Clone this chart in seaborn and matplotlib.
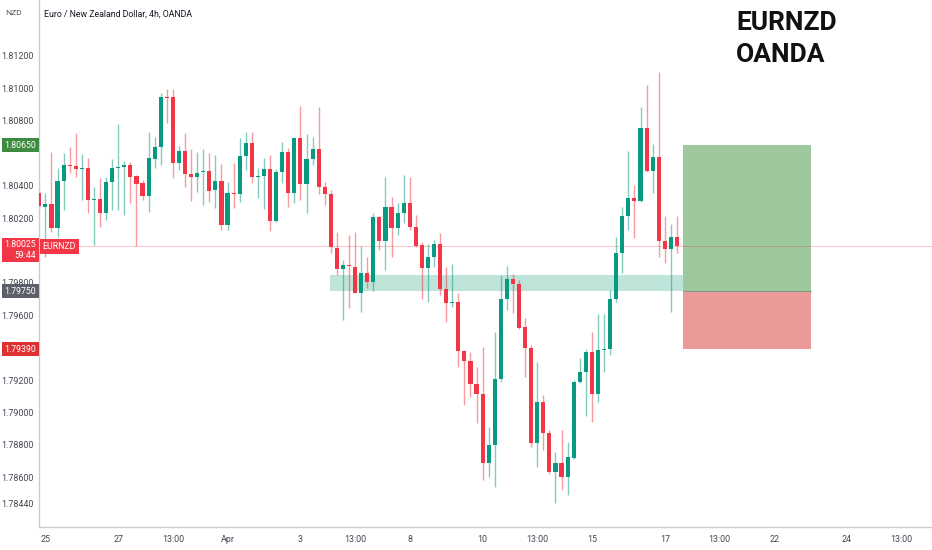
import matplotlib
matplotlib.use('Agg')
import matplotlib.pyplot as plt
import numpy as np
import pandas as pd
import seaborn as sns

# EURNZD 4h candles, bar index -1 (Mar 22 21:00) .. 104 (Apr 17 09:00)
opens = [1.80355, 1.80268, 1.80287, 1.80139, 1.80429, 1.80528, 1.80522, 1.80503, 1.80509, 1.80312,
         1.80318, 1.80232, 1.80423, 1.80509, 1.80515, 1.80528, 1.80460, 1.80417, 1.80336, 1.80565,
         1.80639, 1.80948, 1.80948, 1.80540, 1.80614, 1.80472, 1.80454, 1.80485, 1.80491, 1.80373,
         1.80429, 1.80158, 1.80355, 1.80349, 1.80584, 1.80664, 1.80454, 1.80460, 1.80503, 1.80182,
         1.80485, 1.80608, 1.80355, 1.80695, 1.80411, 1.80565, 1.80627, 1.80392, 1.80349, 1.80016,
         1.79886, 1.79911, 1.79899, 1.79738, 1.79862, 1.79806, 1.80207, 1.80059, 1.80268, 1.80139,
         1.80232, 1.80293, 1.80145, 1.80034, 1.79892, 1.79960, 1.80040, 1.79763, 1.79677, 1.79683,
         1.79380, 1.79319, 1.79177, 1.79115, 1.78689, 1.78800, 1.79208, 1.79701, 1.79825, 1.79794,
         1.79528, 1.79399, 1.78813, 1.79066, 1.78874, 1.78634, 1.78689, 1.78603, 1.78720, 1.79189,
         1.79251, 1.79374, 1.79115, 1.79386, 1.79393, 1.79701, 1.79985, 1.80213, 1.80324, 1.80306,
         1.80756, 1.80491, 1.80577, 1.80059, 1.80010, 1.80084]
highs = [1.80373, 1.80355, 1.80608, 1.80509, 1.80602, 1.80639, 1.80725, 1.80596, 1.80571, 1.80392,
         1.80447, 1.80454, 1.80565, 1.80781, 1.80553, 1.80546, 1.80466, 1.80435, 1.80732, 1.80701,
         1.80972, 1.80997, 1.80997, 1.80645, 1.80725, 1.80627, 1.80608, 1.80627, 1.80602, 1.80590,
         1.80534, 1.80423, 1.80540, 1.80695, 1.80732, 1.80732, 1.80509, 1.80571, 1.80590, 1.80503,
         1.80670, 1.80633, 1.80701, 1.80892, 1.80719, 1.80701, 1.80886, 1.80423, 1.80373, 1.80115,
         1.79942, 1.80096, 1.80115, 1.80028, 1.79960, 1.80232, 1.80213, 1.80454, 1.80330, 1.80293,
         1.80466, 1.80454, 1.80219, 1.80053, 1.80040, 1.80065, 1.80108, 1.79899, 1.79917, 1.79738,
         1.79386, 1.79374, 1.79282, 1.79405, 1.78911, 1.79497, 1.79849, 1.79905, 1.79855, 1.79818,
         1.79584, 1.79417, 1.79313, 1.79109, 1.78893, 1.78757, 1.78893, 1.78819, 1.79201, 1.79337,
         1.79393, 1.79497, 1.79609, 1.79609, 1.79757, 1.80084, 1.80268, 1.80614, 1.80404, 1.80886,
         1.81022, 1.80658, 1.81102, 1.80213, 1.80164, 1.80213]
lows = [1.80250, 1.79960, 1.80115, 1.80084, 1.80250, 1.80478, 1.80454, 1.80312, 1.80232, 1.80034,
        1.80145, 1.80189, 1.80250, 1.80250, 1.80219, 1.80293, 1.80028, 1.80312, 1.80238, 1.80509,
        1.80528, 1.80787, 1.80447, 1.80497, 1.80392, 1.80306, 1.80361, 1.80281, 1.80299, 1.80262,
        1.80127, 1.80127, 1.80262, 1.80299, 1.80497, 1.80417, 1.80324, 1.80256, 1.80121, 1.80176,
        1.80417, 1.80268, 1.80293, 1.80312, 1.80232, 1.80528, 1.80349, 1.80281, 1.79985, 1.79849,
        1.79572, 1.79646, 1.79738, 1.79621, 1.79769, 1.79751, 1.80003, 1.79880, 1.79960, 1.80096,
        1.80170, 1.80127, 1.80022, 1.79701, 1.79683, 1.79899, 1.79726, 1.79559, 1.79652, 1.79282,
        1.79047, 1.79097, 1.78936, 1.78584, 1.78603, 1.78541, 1.79189, 1.79634, 1.79615, 1.79516,
        1.79220, 1.78788, 1.78664, 1.78769, 1.78621, 1.78440, 1.78522, 1.78492, 1.78714, 1.79183,
        1.78979, 1.78942, 1.79066, 1.79251, 1.79356, 1.79683, 1.79862, 1.80127, 1.80077, 1.80299,
        1.80485, 1.80355, 1.79960, 1.79923, 1.79621, 1.79985]
closes = [1.80275, 1.80287, 1.80139, 1.80429, 1.80528, 1.80522, 1.80503, 1.80509, 1.80312, 1.80318,
          1.80232, 1.80423, 1.80509, 1.80515, 1.80528, 1.80454, 1.80411, 1.80336, 1.80571, 1.80639,
          1.80948, 1.80941, 1.80540, 1.80614, 1.80472, 1.80454, 1.80478, 1.80491, 1.80367, 1.80429,
          1.80158, 1.80355, 1.80349, 1.80584, 1.80664, 1.80454, 1.80460, 1.80503, 1.80182, 1.80485,
          1.80608, 1.80355, 1.80695, 1.80411, 1.80565, 1.80627, 1.80392, 1.80349, 1.80022, 1.79886,
          1.79911, 1.79905, 1.79738, 1.79862, 1.79806, 1.80207, 1.80059, 1.80268, 1.80139, 1.80232,
          1.80293, 1.80145, 1.80028, 1.79892, 1.79960, 1.80040, 1.79763, 1.79677, 1.79683, 1.79380,
          1.79319, 1.79177, 1.79115, 1.78689, 1.78800, 1.79208, 1.79701, 1.79825, 1.79794, 1.79522,
          1.79399, 1.78813, 1.79066, 1.78874, 1.78634, 1.78689, 1.78603, 1.78726, 1.79189, 1.79251,
          1.79374, 1.79115, 1.79386, 1.79393, 1.79701, 1.79985, 1.80213, 1.80324, 1.80306, 1.80756,
          1.80491, 1.80577, 1.80059, 1.80010, 1.80084, 1.80025]
bar_index = list(range(-1, len(opens) - 1))

time_ticks = [0, 12, 21, 30, 42, 51, 60, 72, 81, 90, 102, 111, 120, 132, 141]
time_labels = ['25', '27', '13:00', 'Apr', '3', '13:00', '8', '10', '13:00',
               '15', '17', '13:00', '22', '24', '13:00']
# 1.806 / 1.800 / 1.794 sit under the price tags, so they are left out
price_ticks = [1.7844, 1.786, 1.788, 1.790, 1.792, 1.796, 1.798,
               1.802, 1.804, 1.808, 1.810, 1.812]

last_price = 1.80025
zone_low, zone_high = 1.7975, 1.7985
entry, target, stop = 1.7975, 1.8065, 1.7939
zone_start, zone_end = 46.9, 105
box_start, box_end = 105, 126

UP, DOWN = '#089981', '#f23645'

df = pd.DataFrame(dict(idx=bar_index, o=opens, h=highs, l=lows, c=closes))
colors = np.where(df.c >= df.o, UP, DOWN)

sns.set_theme(style='white')
plt.rcParams['font.family'] = ['Roboto', 'DejaVu Sans']

fig = plt.figure(figsize=(9.32, 5.5), dpi=100, facecolor='white')
ax = fig.add_axes([39 / 932, 23 / 550, 893 / 932, 527 / 550])
ax.set_facecolor('white')

# support zone and long position tool
ax.fill_between([zone_start, zone_end], zone_low, zone_high, color='#bfe4da', lw=0, zorder=1)
ax.fill_between([box_start, box_end], entry, target, color='#9dc89d', lw=0, zorder=1)
ax.fill_between([box_start, box_end], stop, entry, color='#eb9a9a', lw=0, zorder=1)
ax.plot([box_start, box_end], [entry, entry], color='#8a9a8a', lw=0.8, zorder=1.2)
ax.axhline(last_price, color=DOWN, lw=0.7, alpha=0.3, zorder=1.1)

# candles
ax.vlines(df.idx, df.l, df.h, colors=colors, lw=1, alpha=0.5, zorder=2)
body_lo = np.minimum(df.o, df.c)
body_h = np.maximum(np.abs(df.c - df.o), 0.00003)
ax.bar(df.idx, body_h, bottom=body_lo, width=0.68, color=colors, lw=0, zorder=3)

ax.set_xlim(-1.05, 146)
ax.set_ylim(1.78294, 1.815455)
ax.set_yticks(price_ticks)
ax.set_yticklabels([f'{p:.5f}' for p in price_ticks])
ax.set_xticks(time_ticks)
ax.set_xticklabels(time_labels)
ax.tick_params(axis='both', length=0, labelsize=6.4, colors='#434651')
ax.tick_params(axis='y', pad=4.2)
ax.tick_params(axis='x', pad=6)
ax.grid(False)
sns.despine(ax=ax)
for side in ['left', 'bottom']:
    ax.spines[side].set_color('#c9ccd3')
    ax.spines[side].set_linewidth(1)

ytr = ax.get_yaxis_transform()


def axis_tag(price, text, color, dx=-2.2, dy=0, ha='right', va='center'):
    ax.annotate(text, xy=(0, price), xycoords=ytr, xytext=(dx, dy),
                textcoords='offset points', ha=ha, va=va, fontsize=6.3,
                color='white', multialignment='right', annotation_clip=False,
                bbox=dict(boxstyle='square,pad=0.3', fc=color, ec='none'), zorder=6)


axis_tag(target, f'{target:.5f}', '#3d8b40')
axis_tag(entry, f'{entry:.5f}', '#5d606b')
axis_tag(stop, f'{stop:.5f}', '#e03131')
axis_tag(last_price, f'{last_price:.5f}\n59:44', DOWN, dy=4.4, va='top')
axis_tag(last_price, 'EURNZD', DOWN, dx=2.6, ha='left')

fig.text(14 / 932, 1 - 13 / 550, 'NZD', fontsize=6, color='#50535e', ha='center', va='center')
fig.text(44 / 932, 1 - 14 / 550, 'Euro / New Zealand Dollar, 4h, OANDA',
         fontsize=6.3, color='#131722', ha='left', va='center')
fig.text(736 / 932, 1 - 11 / 550, 'EURNZD\nOANDA', fontsize=19, fontweight='bold',
         color='#111111', ha='left', va='top', linespacing=1.42)

fig.savefig('out.png', dpi=100, facecolor='white')
